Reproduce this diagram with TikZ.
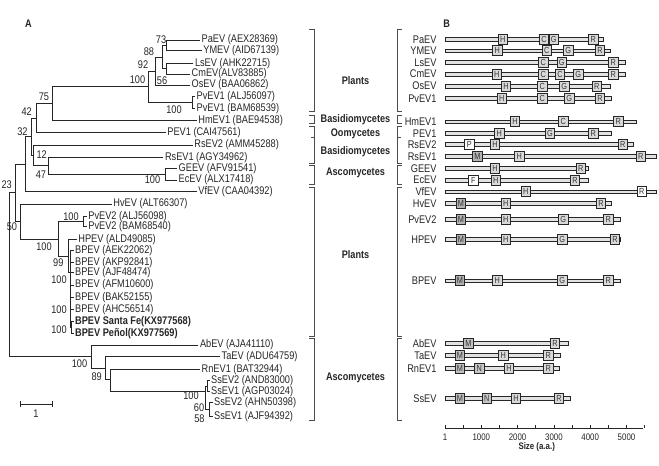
\documentclass[tikz,border=0pt]{standalone}
\usepackage{fontspec}
\setmainfont[FakeStretch=0.83]{Liberation Sans}
\definecolor{tc}{gray}{0.15}
\begin{document}
\begin{tikzpicture}[x=1pt,y=-1pt,
  br/.style={line width=0.7pt, black!85},
  lab/.style={font=\fontsize{11.1}{12}\selectfont, text=tc, inner sep=0pt},
  grp/.style={font=\fontsize{11}{12}\selectfont\bfseries, text=tc, inner sep=0pt},
  dom/.style={draw=black!85, line width=0.55pt, minimum width=9.5pt, minimum height=10pt, inner sep=0pt, font=\fontsize{8.8}{9}\selectfont, text=black!80},
  bar/.style={draw=black!85, fill=gray!22, line width=0.55pt},
  brk/.style={line width=0.75pt, black!70},
  axl/.style={font=\fontsize{9.5}{10}\selectfont, text=tc, inner sep=0pt}]
\useasboundingbox (0,0) rectangle (659,466);
\fill[white] (0,0) rectangle (659,466);

% panel letters
\node[grp] (pA) at (28.3,23.3) {A};
\node[grp] (pB) at (446.7,23.3) {B};

% ---------- tree leaves ----------
\foreach \i/\x/\y/\t in {
 0/200/40/{PaEV (AEX28369)},
 1/201.7/50.7/{YMEV (AID67139)},
 2/193.3/63.3/{LsEV (AHK22715)},
 3/190/74/{CmEV(ALV83885)},
 4/190/85/{OsEV (BAA06862)},
 5/195/96.7/{PvEV1 (ALJ56097)},
 6/195/108.3/{PvEV1 (BAM68539)},
 7/196.7/120.7/{HmEV1 (BAE94538)},
 8/165.7/132.3/{PEV1 (CAI47561)},
 9/192.7/145/{RsEV2 (AMM45288)},
 10/163.3/157.3/{RsEV1 (AGY34962)},
 11/177/168.3/{GEEV (AFV91541)},
 12/177/180/{EcEV (ALX17418)},
 13/196.7/191.7/{VfEV (CAA04392)},
 14/111.7/204/{HvEV (ALT66307)},
 15/86.7/216.7/{PvEV2 (ALJ56098)},
 16/86.7/226.7/{PvEV2 (BAM68540)},
 17/76.7/239.3/{HPEV (ALD49085)},
 18/73.5/250.7/{BPEV (AEK22062)},
 19/73.5/262.7/{BPEV (AKP92841)},
 20/73.5/272.7/{BPEV (AJF48474)},
 21/73.5/285/{BPEV (AFM10600)},
 22/73.5/297.3/{BPEV (BAK52155)},
 23/73.5/309.3/{BPEV (AHC56514)},
 24/73.5/321.7/{\textbf{BPEV Santa Fe(KX977568)}},
 25/73.5/333.3/{\textbf{BPEV Peñol(KX977569)}},
 26/198.3/345/{AbEV (AJA41110)},
 27/220/356.7/{TaEV (ADU64759)},
 28/200/369.3/{RnEV1 (BAT32944)},
 29/209.5/380.7/{SsEV2 (AND83000)},
 30/209.5/391.7/{SsEV1 (AGP03024)},
 31/212.5/402.7/{SsEV2 (AHN50398)},
 32/212.5/416.7/{SsEV1 (AJF94392)}}
{
  \coordinate (L\i) at (\x,\y);
  \node[lab,anchor=west] (t\i) at ([xshift=1.5pt]L\i) {\t};
}

% ---------- internal nodes ----------
\coordinate (n73) at (166.7,45.35);
\coordinate (n56) at (166.7,68.65);
\coordinate (n88) at (162.3,57);
\coordinate (n92) at (155,71);
\coordinate (nPv1) at (192.7,102.5);
\coordinate (n100a) at (148.3,86.75);
\coordinate (n75) at (52.7,103.7);
\coordinate (n42) at (36.7,118);
\coordinate (nGE) at (165,174.15);
\coordinate (n47) at (48.3,165.7);
\coordinate (n12) at (33.3,155.35);
\coordinate (n32) at (31,136.7);
\coordinate (nVf) at (25,164.2);
\coordinate (nPv2) at (83.3,221.7);
\coordinate (nBPp) at (71.5,327.5);
\coordinate (nBP) at (70.5,272.7);
\coordinate (n99) at (68.3,256);
\coordinate (n100b) at (58.3,238.85);
\coordinate (n50) at (20,221.4);
\coordinate (n23) at (15,192.8);
\coordinate (SsA) at (207.3,386.2);
\coordinate (SsB) at (209.5,409.7);
\coordinate (nSs) at (205,391);
\coordinate (nRn) at (110.7,379.3);
\coordinate (n89) at (105,368);
\coordinate (n100c) at (91.7,356.5);
\coordinate (root) at (9.3,274.6);

\foreach \p/\c in {n73/L0,n73/L1,n56/L2,n56/L3,n88/n73,n88/n56,n92/n88,n92/L4,
  nPv1/L5,nPv1/L6,n100a/n92,n100a/nPv1,n75/n100a,n75/L7,n42/n75,n42/L8,
  nGE/L11,nGE/L12,n47/L10,n47/nGE,n12/L9,n12/n47,n32/n42,n32/n12,nVf/n32,nVf/L13,
  nPv2/L15,nPv2/L16,nBPp/L24,nBPp/L25,nBP/L18,nBP/L19,nBP/L20,nBP/L21,nBP/L22,nBP/L23,nBP/nBPp,
  n99/L17,n99/nBP,n100b/nPv2,n100b/n99,n50/L14,n50/n100b,n23/nVf,n23/n50,
  SsA/L29,SsA/L30,SsB/L31,SsB/L32,nSs/SsA,nSs/SsB,nRn/L28,nRn/nSs,n89/L27,n89/nRn,
  n100c/L26,n100c/n89,root/n23,root/n100c}
  \draw[br] (\p) |- (\c);
\draw[line width=1.3pt, black!85] (70.7,274) -- (70.7,291);

% bootstrap values
\foreach \v/\x/\y [count=\k] in {73/161/39.3, 88/149/51.7, 92/143/65, 100/137.5/80, 56/162/80.7,
  100/174/110, 75/44/96.7, 42/26.7/111.7, 32/22.5/131.7, 12/41.7/155, 47/41/175, 100/152.5/180,
  23/6.7/185, 50/12/227, 100/71/216.7, 100/44/246.7, 99/58.3/262.7, 100/59/280, 100/59/309.3,
  100/59/330, 100/79.5/363.3, 89/96.7/376.7, 100/191/395.3, 60/199/407.3, 58/199.5/418.8}
  \node[lab] (bs\k) at (\x,\y) {\v};

% scale bar
\coordinate (sb1) at (20,404);
\coordinate (sb2) at (52.7,404);
\draw[br] (sb1) -- (sb2);
\draw[br] ([yshift=-3pt]sb1) -- ([yshift=3pt]sb1);
\draw[br] ([yshift=-3pt]sb2) -- ([yshift=3pt]sb2);
\node[lab] (sbl) at (36,413.3) {1};

% ---------- brackets and groups ----------
\foreach \a/\b in {29.3/111.7, 115/123.3, 126.7/163.3, 165/184, 187/336, 338.3/420} {
  \draw[brk] (309,\a) -- (314,\a) -- (314,\b) -- (309,\b);
  \draw[brk] (402,\a) -- (397.5,\a) -- (397.5,\b) -- (402,\b);
}
\draw[brk] (311,137) -- (314,137);
\draw[brk] (397.5,137) -- (400.5,137);
\foreach \t/\y [count=\k] in {Plants/81, Basidiomycetes/119.5, Oomycetes/133.3, Basidiomycetes/151.7,
  Ascomycetes/173.3, Plants/255, Ascomycetes/378.3}
  \node[grp] (g\k) at (355.5,\y) {\t};

% ---------- panel B ----------
\foreach \n/\y/\e/\doms in {
 PaEV/39.5/603.3/{H/502.7/gray!30,C/544/gray!30,G/553.7/gray!30,R/593.3/gray!30},
 YMEV/50.7/610/{H/497.3/gray!30,C/546.7/gray!30,G/568.3/gray!30,R/600/gray!30},
 LsEV/62.3/625/{C/543.3/gray!30,G/561.7/gray!30,R/613.3/gray!30},
 CmEV/74/625/{H/496.7/gray!30,C/543.3/gray!30,C/560/gray!30,G/578.3/gray!30,R/613.3/gray!30},
 OsEV/86/610/{H/506/gray!30,C/542.3/gray!30,G/564.3/gray!30,R/596.7/gray!30},
 PvEV1/98.3/611.7/{H/501.7/gray!30,C/542.3/gray!30,G/569.3/gray!30,R/600/gray!30},
 HmEV1/121.7/636.7/{H/515/gray!30,C/563.3/gray!30,R/618.3/gray!30},
 PEV1/133.3/611/{H/499.3/gray!30,G/550/gray!30,R/593.3/gray!30},
 RsEV2/144.5/633.3/{P/469.3/white,H/495/gray!30,R/622.7/gray!30},
 RsEV1/156.5/656.7/{M/477.3/gray!60,H/519.3/gray!30,R/640.7/gray!30},
 GEEV/168.3/588.3/{H/495/gray!30,R/580.7/gray!30},
 EcEV/180/588.3/{F/473.3/white,H/495.7/gray!30,R/575/gray!30},
 VfEV/191.7/656.7/{H/525.7/gray!30,R/641.7/white},
 HvEV/203.5/611.7/{M/461/gray!60,H/505.7/gray!30,R/601/gray!30},
 PvEV2/219.3/620.7/{M/461/gray!60,H/505.7/gray!30,G/563.3/gray!30,R/608.3/gray!30},
 HPEV/239.3/620.7/{M/461/gray!60,H/505.7/gray!30,G/562.3/gray!30,R/615/gray!30},
 BPEV/280.7/620/{M/460/gray!60,H/497.3/gray!30,G/562.3/gray!30,R/608.3/gray!30},
 AbEV/343.3/568.3/{M/468.3/gray!50,R/555/gray!30},
 TaEV/355.5/560/{M/460/gray!50,H/503.3/gray!30,R/548.3/gray!30},
 RnEV1/368.3/559.3/{M/460/gray!50,N/479.3/gray!45,H/509/gray!30,R/548.3/gray!30},
 SsEV/398.3/570/{M/460/gray!50,N/486.7/gray!45,H/516/gray!30,R/559/gray!30}}
{
  \node[lab,anchor=east] (r\n) at (436.7,\y) {\n};
  \draw[bar] (445,\y-1.9) rectangle (\e,\y+1.9);
  \foreach \l/\p/\fc [count=\k] in \doms
    \node[dom,fill=\fc] (d\n\k) at (\p,\y) {\l};
}

% axis
\coordinate (ax0) at (445,428.3);
\coordinate (ax1) at (643.3,428.3);
\draw[line width=0.6pt, black!85] (ax0) -- (ax1);
\foreach \v in {0,...,11}
  \draw[line width=0.6pt, black!85] (445+\v*18.15,428.3) -- ++(0,-3);
\foreach \v/\x [count=\k] in {1/445, 1000/481.3, 2000/517.6, 3000/553.9, 4000/590.2, 5000/626.5}
  \node[axl] (al\k) at (\x,437.5) {\v};
\node[axl,font=\fontsize{9.5}{10}\selectfont\bfseries] (axt) at (536.7,447) {Size (a.a.)};
\end{tikzpicture}
\end{document}
